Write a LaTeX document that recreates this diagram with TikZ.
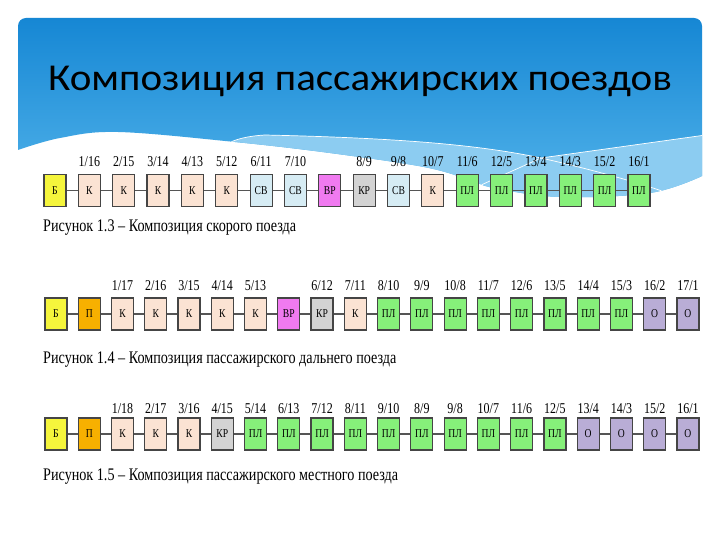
\documentclass[tikz,border=0pt]{standalone}
\usepackage{fontspec}
\setmainfont{Liberation Serif}
\newfontfamily\figfont[FakeStretch=0.8]{Liberation Serif}
\newfontfamily\titlefont[FakeStretch=1.08]{Carlito}
\definecolor{blueTop}{HTML}{1687D4}
\definecolor{blueBot}{HTML}{52B3EA}
\definecolor{blueLight}{HTML}{8CCCF1}
\definecolor{boxline}{HTML}{454545}
\definecolor{linkgray}{HTML}{555555}
\definecolor{cB}{HTML}{F5F53C}
\definecolor{cP}{HTML}{F7B000}
\definecolor{cK}{HTML}{FBE3D3}
\definecolor{cSV}{HTML}{D6ECF4}
\definecolor{cVR}{HTML}{F07AF0}
\definecolor{cKR}{HTML}{D3D3D3}
\definecolor{cPL}{HTML}{86F07A}
\definecolor{cO}{HTML}{B9ADD6}
\begin{document}
\begin{tikzpicture}[x=1pt,y=-1pt,
  car/.style={draw=boxline, line width=1.2pt, minimum width=22pt, minimum height=32pt, inner sep=0pt, font=\figfont\fontsize{12}{12}\selectfont},
  link/.style={draw=linkgray, line width=1.1pt},
  num/.style={font=\figfont\fontsize{15}{15}\selectfont, anchor=base, inner sep=0pt},
  figcap/.style={font=\figfont\fontsize{17.7}{17.7}\selectfont, anchor=base west, inner sep=0pt},
  wline/.style={draw=white, line width=0.7pt}]
\useasboundingbox (0,0) rectangle (720,540);
\fill[white] (0,0) rectangle (720,540);
% blue header
\shade[top color=blueTop, bottom color=blueBot]
  (18,150) -- (18,26) arc[start angle=180,end angle=270,radius=8] -- (694,18)
  arc[start angle=270,end angle=360,radius=8] -- (702,176)
  -- plot[smooth, tension=0.6] coordinates {(702,176) (650,193) (560,197) (494,188) (470,180) (424,167) (330,153) (235,142) (118,132) (60,138) (18,150)} -- cycle;
\begin{scope}
\clip (18,150) -- (18,26) arc[start angle=180,end angle=270,radius=8] -- (694,18)
  arc[start angle=270,end angle=360,radius=8] -- (702,176)
  -- plot[smooth, tension=0.6] coordinates {(702,176) (650,193) (560,197) (494,188) (470,180) (424,167) (330,153) (235,142) (118,132) (60,138) (18,150)} -- cycle;
\fill[blueLight] (215,150) .. controls (228,141) and (245,136) .. (265,135) .. controls (400,138) and (480,145) .. (541,158) -- (720,133) -- (720,260) -- (215,260) -- cycle;
\draw[wline] (225,145) .. controls (235,139) and (248,136) .. (265,135) .. controls (400,138) and (480,145) .. (541,158) .. controls (585,168) and (630,180) .. (665,192);
\draw[wline] (470,190) -- (541,158) -- (720,133);
\end{scope}
\node[font=\titlefont\fontsize{38}{38}\selectfont, anchor=base, inner sep=0pt] (title) at (360,91) {Композиция пассажирских поездов};
% row 1
\foreach \c/\t [count=\i] in {cB/Б,cK/К,cK/К,cK/К,cK/К,cK/К,cSV/СВ,cSV/СВ,cVR/ВР,cKR/КР,cSV/СВ,cK/К,cPL/ПЛ,cPL/ПЛ,cPL/ПЛ,cPL/ПЛ,cPL/ПЛ,cPL/ПЛ}{
  \pgfmathsetmacro\x{55+34.35*(\i-1)}
  \node[car, fill=\c] (r1n\i) at (\x,190.5) {\t};
}
\foreach \i in {1,...,17}{\pgfmathtruncatemacro\j{\i+1}\draw[link] (r1n\i) -- (r1n\j);}
\foreach \i/\a/\b in {2/1/16,3/2/15,4/3/14,5/4/13,6/5/12,7/6/11,8/7/10,10/8/9,11/9/8,12/10/7,13/11/6,14/12/5,15/13/4,16/14/3,17/15/2,18/16/1}{
  \pgfmathsetmacro\x{55+34.35*(\i-1)}
  \node[num] (r1l\i) at (\x,167) {\a/\b};
}
\node[figcap] (cap1) at (43,231) {Рисунок 1.3 – Композиция скорого поезда};
% row 2
\foreach \c/\t [count=\i] in {cB/Б,cP/П,cK/К,cK/К,cK/К,cK/К,cK/К,cVR/ВР,cKR/КР,cK/К,cPL/ПЛ,cPL/ПЛ,cPL/ПЛ,cPL/ПЛ,cPL/ПЛ,cPL/ПЛ,cPL/ПЛ,cPL/ПЛ,cO/О,cO/О}{
  \pgfmathsetmacro\x{56+33.26*(\i-1)}
  \node[car, fill=\c] (r2n\i) at (\x,314) {\t};
}
\foreach \i in {1,...,19}{\pgfmathtruncatemacro\j{\i+1}\draw[link] (r2n\i) -- (r2n\j);}
\foreach \i/\a/\b in {3/1/17,4/2/16,5/3/15,6/4/14,7/5/13,9/6/12,10/7/11,11/8/10,12/9/9,13/10/8,14/11/7,15/12/6,16/13/5,17/14/4,18/15/3,19/16/2,20/17/1}{
  \pgfmathsetmacro\x{56+33.26*(\i-1)}
  \node[num] (r2l\i) at (\x,290) {\a/\b};
}
\node[figcap] (cap2) at (43,363) {Рисунок 1.4 – Композиция пассажирского дальнего поезда};
% row 3
\foreach \c/\t [count=\i] in {cB/Б,cP/П,cK/К,cK/К,cK/К,cKR/КР,cPL/ПЛ,cPL/ПЛ,cPL/ПЛ,cPL/ПЛ,cPL/ПЛ,cPL/ПЛ,cPL/ПЛ,cPL/ПЛ,cPL/ПЛ,cPL/ПЛ,cO/О,cO/О,cO/О,cO/О}{
  \pgfmathsetmacro\x{56+33.26*(\i-1)}
  \node[car, fill=\c] (r3n\i) at (\x,434) {\t};
}
\foreach \i in {1,...,19}{\pgfmathtruncatemacro\j{\i+1}\draw[link] (r3n\i) -- (r3n\j);}
\foreach \i/\a/\b in {3/1/18,4/2/17,5/3/16,6/4/15,7/5/14,8/6/13,9/7/12,10/8/11,11/9/10,12/8/9,13/9/8,14/10/7,15/11/6,16/12/5,17/13/4,18/14/3,19/15/2,20/16/1}{
  \pgfmathsetmacro\x{56+33.26*(\i-1)}
  \node[num] (r3l\i) at (\x,413) {\a/\b};
}
\node[figcap] (cap3) at (43,480) {Рисунок 1.5 – Композиция пассажирского местного поезда};
\end{tikzpicture}
\end{document}
